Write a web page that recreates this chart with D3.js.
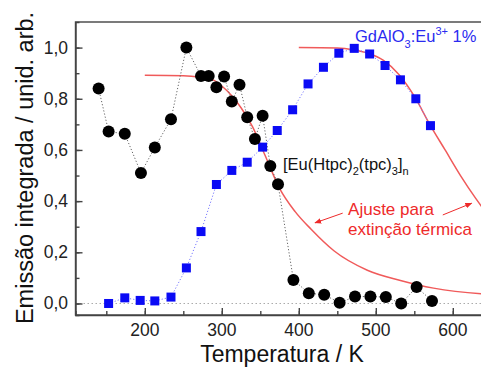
<!DOCTYPE html>
<html>
<head>
<meta charset="utf-8">
<script src="https://cdn.jsdelivr.net/npm/d3@7"></script>
<style>
  body { margin: 0; background: #fff; }
  svg text { font-family: "Liberation Sans", Arial, sans-serif; }
</style>
</head>
<body>
<div id="chart"></div>
<script>
// [Eu(Htpc)2(tpc)3]n - black circles
var tempEu = [140, 153, 174, 195, 213, 234, 254, 273, 283, 293, 303, 313, 323, 333, 343, 353, 363, 373, 393, 413, 433, 453, 473, 493, 513, 533, 553, 573]
var intEu = [0.84, 0.672, 0.663, 0.51, 0.61, 0.72, 1.0, 0.889, 0.889, 0.845, 0.887, 0.789, 0.855, 0.728, 0.643, 0.734, 0.537, 0.466, 0.092, 0.04, 0.034, 0.003, 0.027, 0.027, 0.025, 0.0, 0.064, 0.01]

// GdAlO3:Eu3+ 1% - blue squares
var tempGd = [153, 174, 194, 213, 234, 254, 273, 293, 313, 333, 353, 372, 392, 412, 432, 452, 472, 492, 512, 532, 552, 571]
var intGd = [0.0, 0.022, 0.012, 0.01, 0.025, 0.139, 0.281, 0.465, 0.52, 0.552, 0.611, 0.676, 0.757, 0.858, 0.923, 0.978, 0.997, 0.975, 0.93, 0.874, 0.80, 0.695]

// fitted thermal quenching curves
var fitEuT = [200, 250, 270, 290, 300, 312, 325, 340, 356, 375, 395, 416, 446, 489, 532, 575, 638, 670]
var fitEuI = [0.892, 0.89, 0.885, 0.872, 0.85, 0.815, 0.765, 0.69, 0.58, 0.45, 0.36, 0.29, 0.205, 0.13, 0.09, 0.06, 0.038, 0.034]
var fitGdT = [400, 450, 470, 490, 510, 530, 550, 570, 590, 610, 630, 650, 670]
var fitGdI = [1.0, 0.998, 0.992, 0.978, 0.95, 0.895, 0.81, 0.70, 0.60, 0.50, 0.41, 0.33, 0.27]

var xTicks = [200, 300, 400, 500, 600]
var yTicks = [0, 0.2, 0.4, 0.6, 0.8, 1.0]

var width = 481
var height = 367

var svg = d3.select("#chart").append("svg")
    .attr("width", width)
    .attr("height", height)

var x = d3.scaleLinear().domain([110, 660]).range([75.5, 499])
var y = d3.scaleLinear().domain([-0.045, 1.1]).range([315, 22])

var fmt = function(d) { return d3.format(".1f")(d).replace(".", ","); }

// zero line
svg.append("line")
    .attr("x1", x(110)).attr("x2", width)
    .attr("y1", y(0)).attr("y2", y(0))
    .attr("stroke", "#aaa")
    .attr("stroke-width", 1)
    .attr("stroke-dasharray", "1.5,2.5")

// axes (ticks inward)
svg.append("g")
    .attr("transform", "translate(0," + y.range()[0] + ")")
    .call(d3.axisTop(x).tickValues(d3.range(150, 660, 50)).tickSize(4).tickFormat(""))
svg.append("g")
    .attr("transform", "translate(0," + y.range()[0] + ")")
    .call(d3.axisTop(x).tickValues(xTicks).tickSize(7).tickFormat(""))
    .call(function(g) { g.select(".domain").remove(); })

svg.append("g")
    .attr("transform", "translate(" + x.range()[0] + ",0)")
    .call(d3.axisRight(y).tickValues(d3.range(0, 1.05, 0.1)).tickSize(4).tickFormat(""))
svg.append("g")
    .attr("transform", "translate(" + x.range()[0] + ",0)")
    .call(d3.axisRight(y).tickValues(yTicks).tickSize(7).tickFormat(""))
    .call(function(g) { g.select(".domain").remove(); })

svg.selectAll(".domain, .tick line")
    .attr("stroke", "#444")
    .attr("stroke-width", 1.4)

// frame
svg.append("rect")
    .attr("x", x.range()[0]).attr("y", y.range()[1])
    .attr("width", x.range()[1] - x.range()[0])
    .attr("height", y.range()[0] - y.range()[1])
    .attr("fill", "none")
    .attr("stroke", "#444")
    .attr("stroke-width", 1.4)

// tick labels
svg.selectAll(".xlab")
    .data(xTicks)
    .enter().append("text")
    .attr("class", "xlab")
    .attr("x", function(d) { return x(d); })
    .attr("y", 336)
    .attr("text-anchor", "middle")
    .attr("font-size", 17.5)
    .attr("fill", "#222")
    .text(function(d) { return d; })

svg.selectAll(".ylab")
    .data(yTicks)
    .enter().append("text")
    .attr("class", "ylab")
    .attr("x", 68)
    .attr("y", function(d) { return y(d) + 6; })
    .attr("text-anchor", "end")
    .attr("font-size", 17.5)
    .attr("fill", "#222")
    .text(fmt)

// axis titles
svg.append("text")
    .attr("x", 282)
    .attr("y", 362)
    .attr("text-anchor", "middle")
    .attr("font-size", 23)
    .attr("fill", "#111")
    .text("Temperatura / K")

svg.append("text")
    .attr("transform", "translate(33,168) rotate(-90)")
    .attr("text-anchor", "middle")
    .attr("font-size", 23.5)
    .attr("fill", "#111")
    .text("Emissão integrada / unid. arb.")

// fit curves
var fitLine = d3.line().curve(d3.curveMonotoneX)
    .x(function(d) { return x(d[0]); })
    .y(function(d) { return y(d[1]); })

svg.append("path")
    .attr("d", fitLine(d3.zip(fitEuT, fitEuI)))
    .attr("fill", "none")
    .attr("stroke", "#f05a5a")
    .attr("stroke-width", 1.5)
svg.append("path")
    .attr("d", fitLine(d3.zip(fitGdT, fitGdI)))
    .attr("fill", "none")
    .attr("stroke", "#f05a5a")
    .attr("stroke-width", 1.5)

// dotted connections
var dataLine = d3.line()
    .x(function(d) { return x(d[0]); })
    .y(function(d) { return y(d[1]); })

svg.append("path")
    .attr("d", dataLine(d3.zip(tempEu, intEu)))
    .attr("fill", "none")
    .attr("stroke", "#666")
    .attr("stroke-width", 1)
    .attr("stroke-dasharray", "1.2,2")
svg.append("path")
    .attr("d", dataLine(d3.zip(tempGd, intGd)))
    .attr("fill", "none")
    .attr("stroke", "#7a7aff")
    .attr("stroke-width", 1)
    .attr("stroke-dasharray", "1.2,2")

// markers
svg.selectAll(".sq")
    .data(d3.zip(tempGd, intGd))
    .enter().append("rect")
    .attr("class", "sq")
    .attr("x", function(d) { return x(d[0]) - 4.5; })
    .attr("y", function(d) { return y(d[1]) - 4.5; })
    .attr("width", 9)
    .attr("height", 9)
    .attr("fill", "#0a0af5")

svg.selectAll(".dot")
    .data(d3.zip(tempEu, intEu))
    .enter().append("circle")
    .attr("class", "dot")
    .attr("cx", function(d) { return x(d[0]); })
    .attr("cy", function(d) { return y(d[1]); })
    .attr("r", 6)
    .attr("fill", "#000")

// labels
var gd = svg.append("text")
    .attr("x", x(473)).attr("y", y(1.023))
    .attr("font-size", 16.5)
    .attr("fill", "#2a2af0")
gd.append("tspan").text("GdAlO")
gd.append("tspan").attr("font-size", 11).attr("dy", 6).text("3")
gd.append("tspan").attr("dy", -6).text(":Eu")
gd.append("tspan").attr("font-size", 11).attr("dy", -7).text("3+")
gd.append("tspan").attr("dy", 7).text(" 1%")

var eu = svg.append("text")
    .attr("x", x(379.5)).attr("y", y(0.522))
    .attr("font-size", 16.5)
    .attr("fill", "#111")
eu.append("tspan").text("[Eu(Htpc)")
eu.append("tspan").attr("font-size", 11).attr("dy", 5).text("2")
eu.append("tspan").attr("dy", -5).text("(tpc)")
eu.append("tspan").attr("font-size", 11).attr("dy", 5).text("3")
eu.append("tspan").attr("dy", -5).text("]")
eu.append("tspan").attr("font-size", 11).attr("dy", 5).text("n")

svg.append("text")
    .attr("x", x(464)).attr("y", y(0.346))
    .attr("font-size", 17)
    .attr("fill", "#ee2a2a")
    .text("Ajuste para")
svg.append("text")
    .attr("x", x(464)).attr("y", y(0.268))
    .attr("font-size", 17)
    .attr("fill", "#ee2a2a")
    .text("extinção térmica")

// arrows
svg.append("defs").append("marker")
    .attr("id", "arr")
    .attr("viewBox", "0 0 10 10")
    .attr("refX", 9).attr("refY", 5)
    .attr("markerWidth", 7).attr("markerHeight", 7)
    .attr("orient", "auto")
    .append("path")
    .attr("d", "M0,1 L10,5 L0,9 Z")
    .attr("fill", "#ee2a2a")

var arrows = [[457, 0.353, 421, 0.315], [587, 0.346, 624.5, 0.392]]
svg.selectAll(".arrow")
    .data(arrows)
    .enter().append("line")
    .attr("class", "arrow")
    .attr("x1", function(d) { return x(d[0]); })
    .attr("y1", function(d) { return y(d[1]); })
    .attr("x2", function(d) { return x(d[2]); })
    .attr("y2", function(d) { return y(d[3]); })
    .attr("stroke", "#ee2a2a")
    .attr("stroke-width", 1)
    .attr("marker-end", "url(#arr)")
</script>
</body>
</html>
